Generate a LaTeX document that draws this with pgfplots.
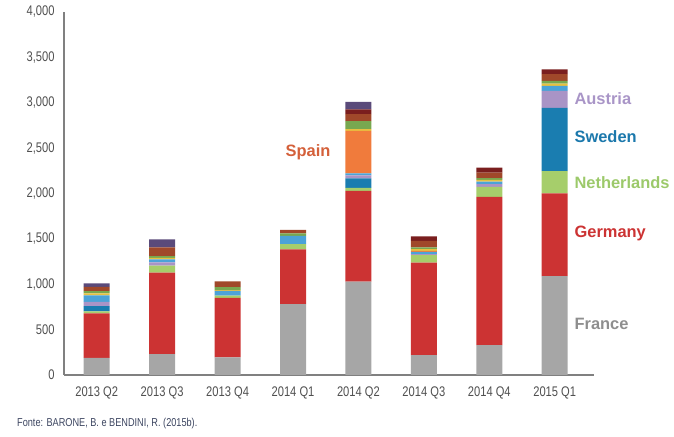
\documentclass[border=0pt]{standalone}
\usepackage{fontspec}
\setmainfont{Liberation Sans}
\newfontfamily\condfont{Liberation Sans}[FakeStretch=0.8]
\newfontfamily\labfont{Liberation Sans}
\usepackage{pgfplots}
\usepackage{pgfplotstable}
\pgfplotsset{compat=1.18}
\definecolor{cFrance}{HTML}{A6A6A6}
\definecolor{cGermany}{HTML}{CC3333}
\definecolor{cNeth}{HTML}{A6CE6B}
\definecolor{cSweden}{HTML}{1A7DB0}
\definecolor{cAustria}{HTML}{A994C6}
\definecolor{cLBlue}{HTML}{4BA3D8}
\definecolor{cSpain}{HTML}{F07B3C}
\definecolor{cYellow}{HTML}{E8C040}
\definecolor{cGreen}{HTML}{78A850}
\definecolor{cBrown}{HTML}{A0482A}
\definecolor{cDRed}{HTML}{7A1E1E}
\definecolor{cPurple}{HTML}{5A4A7A}
\definecolor{cAxis}{HTML}{808080}
\definecolor{cTick}{HTML}{505050}
\definecolor{cSrc}{HTML}{3C4560}
\definecolor{lFrance}{HTML}{8E8E8E}
\definecolor{lSpain}{HTML}{D4603A}
\definecolor{lSweden}{HTML}{1B78AC}
\definecolor{lNeth}{HTML}{9CC96A}
\definecolor{lAustria}{HTML}{A995C7}
\pgfplotstableread{
x France Germany Neth Sweden Austria LBlue Spain Yellow Green Brown DRed Purple
0 190 489 22 59 47 71 0 22 25 47 0 38
1 231 896 77 0 37 33 0 18 18 96 0 88
2 195 656 25 0 0 50 0 10 32 65 0 0
3 782 602 59 0 0 91 0 0 26 38 0 0
4 1030 1000 33 103 34 21 469 19 88 77 52 84
5 220 1017 85 0 10 26 10 20 18 73 48 0
6 330 1634 110 0 29 29 0 17 20 62 55 0
7 1090 911 246 697 187 55 0 26 29 74 52 0
}\datatable
\begin{document}
\begin{tikzpicture}
\path[use as bounding box] (0,0) rectangle (674bp,437bp);
\begin{axis}[
  scale only axis,
  width=530bp, height=363bp,
  at={(64bp,62bp)}, anchor=south west,
  ybar stacked, bar width=26bp,
  xmin=-0.5, xmax=7.6, ymin=0, ymax=4000,
  axis x line*=bottom, axis y line*=left,
  x axis line style={cAxis, line width=2bp, -},
  y axis line style={cAxis, line width=1.2bp, -},
  major tick length=0pt,
  xtick={0,...,7},
  xticklabels={2013 Q2,2013 Q3,2013 Q4,2014 Q1,2014 Q2,2014 Q3,2014 Q4,2015 Q1},
  ytick={0,500,...,4000},
  /pgf/number format/assume math mode=true,
  /pgf/number format/1000 sep={,},
  tick label style={font=\condfont\fontsize{14}{16}\selectfont, text=cTick},
  xticklabel style={yshift=-8bp},
  yticklabel style={xshift=-6bp},
  clip=false,
]
\addplot[fill=cFrance, draw=none] table[x=x,y=France]{\datatable};
\addplot[fill=cGermany, draw=none] table[x=x,y=Germany]{\datatable};
\addplot[fill=cNeth, draw=none] table[x=x,y=Neth]{\datatable};
\addplot[fill=cSweden, draw=none] table[x=x,y=Sweden]{\datatable};
\addplot[fill=cAustria, draw=none] table[x=x,y=Austria]{\datatable};
\addplot[fill=cLBlue, draw=none] table[x=x,y=LBlue]{\datatable};
\addplot[fill=cSpain, draw=none] table[x=x,y=Spain]{\datatable};
\addplot[fill=cYellow, draw=none] table[x=x,y=Yellow]{\datatable};
\addplot[fill=cGreen, draw=none] table[x=x,y=Green]{\datatable};
\addplot[fill=cBrown, draw=none] table[x=x,y=Brown]{\datatable};
\addplot[fill=cDRed, draw=none] table[x=x,y=DRed]{\datatable};
\addplot[fill=cPurple, draw=none] table[x=x,y=Purple]{\datatable};
\node[anchor=west, inner sep=0pt, font=\labfont\bfseries\fontsize{16.5}{18}\selectfont, text=lAustria] at (axis cs:7.3,3041) {Austria};
\node[anchor=west, inner sep=0pt, font=\labfont\bfseries\fontsize{16.5}{18}\selectfont, text=lSweden] at (axis cs:7.3,2623) {Sweden};
\node[anchor=west, inner sep=0pt, font=\labfont\bfseries\fontsize{16.5}{18}\selectfont, text=lNeth] at (axis cs:7.3,2116) {Netherlands};
\node[anchor=west, inner sep=0pt, font=\labfont\bfseries\fontsize{16.5}{18}\selectfont, text=cGermany] at (axis cs:7.3,1565) {Germany};
\node[anchor=west, inner sep=0pt, font=\labfont\bfseries\fontsize{16.5}{18}\selectfont, text=lFrance] at (axis cs:7.3,562) {France};
\node[anchor=center, inner sep=0pt, font=\labfont\bfseries\fontsize{16.5}{18}\selectfont, text=lSpain] at (axis cs:3.23,2457) {Spain};
\end{axis}
\node[anchor=west, inner sep=0pt, text=cSrc, font=\condfont\fontsize{11.5}{13}\selectfont] at (17bp,13bp) {Fonte: BARONE, B. e BENDINI, R. (2015b).};
\end{tikzpicture}
\end{document}
